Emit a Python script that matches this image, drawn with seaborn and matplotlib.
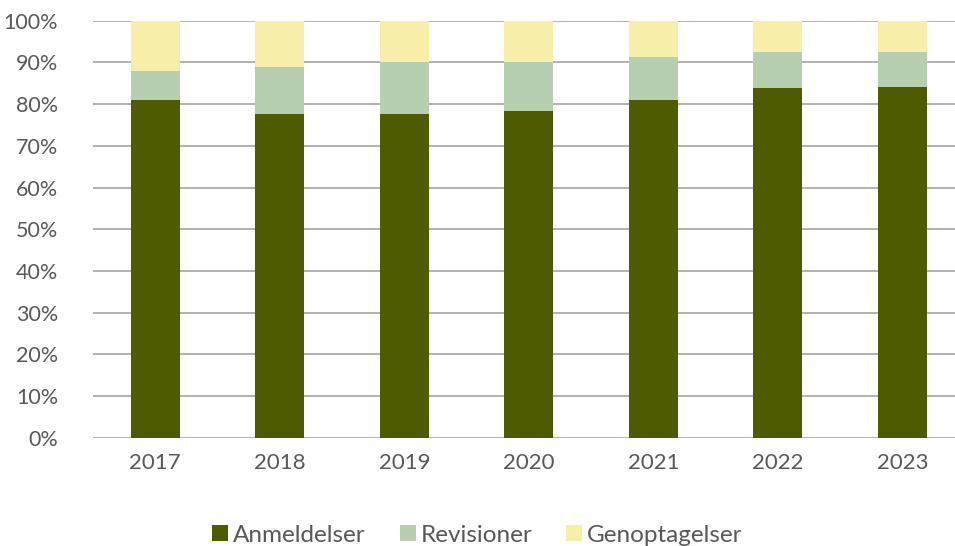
import matplotlib
matplotlib.use("Agg")
import matplotlib.pyplot as plt
import seaborn as sns
import pandas as pd
import numpy as np
from matplotlib.patches import Patch

years = ["2017", "2018", "2019", "2020", "2021", "2022", "2023"]
anmeldelser = [81.0, 77.7, 77.6, 78.3, 80.9, 83.9, 84.1]
revisioner = [7.0, 11.1, 12.6, 11.7, 10.4, 8.7, 8.3]
genoptagelser = [12.0, 11.2, 9.8, 10.0, 8.7, 7.4, 7.6]

series_names = ["Anmeldelser", "Revisioner", "Genoptagelser"]
colors = ["#4f5b00", "#b5cfb0", "#f7eea9"]

sns.set_theme(style="white")
plt.rcParams['font.family'] = ['Lato', 'DejaVu Sans']

df = pd.DataFrame({"year": years, "A": anmeldelser, "R": revisioner, "G": genoptagelser})
df["AR"] = df["A"] + df["R"]
df["ARG"] = df["AR"] + df["G"]

fig = plt.figure(figsize=(9.55, 5.46), dpi=100)
ax = fig.add_axes([93 / 955, (546 - 437.7) / 546, 871.5 / 955, 417 / 546])

bw = 0.39
for col, c in zip(["ARG", "AR", "A"], colors[::-1]):
    sns.barplot(data=df, x="year", y=col, color=c, width=bw, ax=ax,
                saturation=1, zorder=3, edgecolor="none", linewidth=0)

ax.set_ylim(0, 100)
ax.set_xlim(-0.5, 6.5)
ax.set_yticks(np.arange(0, 101, 10))
ax.set_yticklabels([f"{v}%" for v in range(0, 101, 10)])
ax.yaxis.grid(True, color="#a6a6a6", linewidth=1.2, zorder=0)
ax.set_axisbelow(True)
for s in ax.spines.values():
    s.set_visible(False)
ax.set_xlabel("")
ax.set_ylabel("")
ax.tick_params(axis="both", length=0, labelsize=16, colors="#595959")
ax.tick_params(axis="y", labelsize=15.5, pad=25)
ax.tick_params(axis="x", pad=11)

handles = [Patch(facecolor=c, edgecolor="none") for c in colors]
fig.legend(handles, series_names, loc="center", bbox_to_anchor=(0.5, (546 - 535) / 546),
           ncol=3, frameon=False, fontsize=17.5, handlelength=0.66, handleheight=0.66,
           handletextpad=0.2, columnspacing=1.4, labelcolor="#595959",
           borderpad=0, borderaxespad=0)

fig.savefig("out.png", dpi=100)
